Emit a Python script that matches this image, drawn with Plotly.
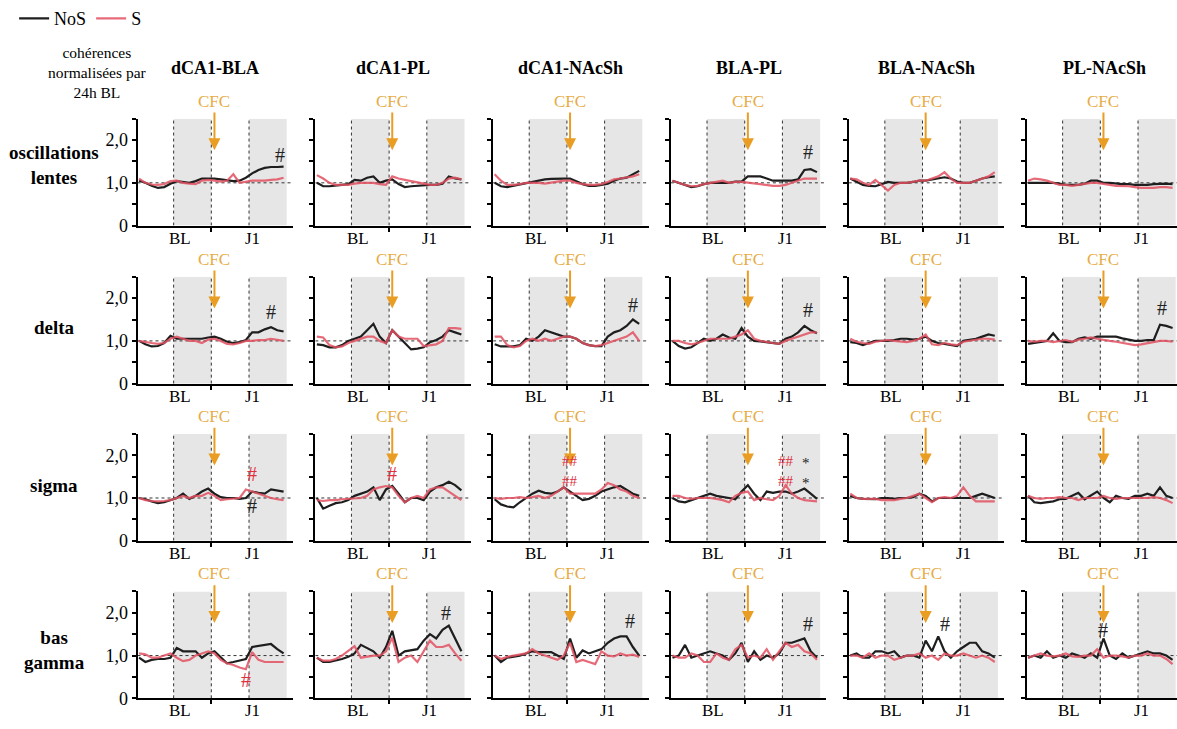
import plotly.graph_objects as go
from plotly.subplots import make_subplots

# ---------------- data ----------------
hours = [1, 3, 5, 7, 9, 11, 13, 15, 17, 19, 21, 23, 25, 27, 29, 31, 33, 35, 37, 39, 41, 43, 45, 47]

pairs = ["dCA1-BLA", "dCA1-PL", "dCA1-NAcSh", "BLA-PL", "BLA-NAcSh", "PL-NAcSh"]
bands = ["oscillations<br>lentes", "delta", "sigma", "bas<br>gamma"]

# oscillations lentes (one list per pair)
nos_lentes = [
    [1.05, 1.0, 0.93, 0.88, 0.9, 0.98, 1.04, 1.02, 1.0, 1.04, 1.1, 1.1, 1.1, 1.08, 1.06, 1.04, 1.05, 1.12, 1.22, 1.3, 1.35, 1.37, 1.37, 1.38],
    [1.0, 0.92, 0.92, 0.93, 0.95, 0.97, 1.07, 1.05, 1.12, 1.15, 1.0, 1.05, 1.08, 0.97, 0.9, 0.92, 0.93, 0.95, 0.95, 0.95, 0.98, 1.15, 1.1, 1.08],
    [1.0, 0.92, 0.9, 0.93, 0.97, 1.0, 1.03, 1.06, 1.08, 1.09, 1.1, 1.1, 1.1, 1.03, 0.97, 0.93, 0.93, 0.95, 0.98, 1.05, 1.1, 1.12, 1.2, 1.28],
    [1.05, 1.0, 0.95, 0.9, 0.92, 0.97, 1.0, 1.0, 1.0, 1.0, 1.03, 1.03, 1.15, 1.15, 1.15, 1.1, 1.05, 1.05, 1.05, 1.05, 1.08, 1.3, 1.32, 1.25],
    [1.1, 1.03, 0.95, 0.93, 0.92, 0.97, 1.02, 1.0, 1.0, 1.0, 1.02, 1.05, 1.05, 1.08, 1.1, 1.13, 1.1, 1.03, 1.0, 1.0, 1.05, 1.1, 1.13, 1.15],
    [1.0, 1.0, 1.0, 1.0, 1.0, 0.98, 0.95, 0.95, 0.95, 0.98, 1.05, 1.05, 1.0, 1.0, 0.98, 0.97, 0.97, 0.95, 0.95, 0.95, 0.97, 0.98, 0.98, 0.97],
]
s_lentes = [
    [1.1, 1.0, 0.96, 0.95, 0.97, 1.04, 1.05, 1.0, 0.98, 0.97, 1.05, 1.07, 1.05, 1.03, 1.05, 1.2, 1.0, 1.02, 1.05, 1.05, 1.05, 1.07, 1.08, 1.12],
    [1.18, 1.1, 1.0, 0.95, 0.95, 0.95, 0.98, 1.0, 1.0, 1.0, 0.97, 0.95, 1.15, 1.1, 1.07, 1.04, 1.0, 0.97, 0.95, 0.95, 1.0, 1.1, 1.12, 1.08],
    [1.2, 1.05, 0.95, 0.95, 0.97, 1.0, 1.0, 1.0, 0.98, 1.0, 1.03, 1.05, 1.05, 1.0, 0.97, 0.95, 0.95, 0.97, 1.02, 1.08, 1.1, 1.12, 1.15, 1.2],
    [1.05, 1.0, 0.95, 0.92, 0.93, 0.97, 1.0, 1.02, 1.05, 1.0, 1.02, 1.02, 1.0, 0.98, 0.97, 0.95, 0.93, 0.93, 0.95, 1.0, 1.05, 1.1, 1.1, 1.1],
    [1.1, 1.08, 1.0, 0.95, 1.07, 0.95, 0.82, 0.95, 1.0, 1.0, 1.03, 1.05, 1.05, 1.1, 1.15, 1.25, 1.1, 1.0, 1.0, 1.0, 1.05, 1.1, 1.15, 1.25],
    [1.05, 1.1, 1.08, 1.05, 1.0, 0.95, 0.95, 0.93, 0.95, 0.97, 1.0, 1.0, 0.97, 0.95, 0.93, 0.93, 0.92, 0.9, 0.88, 0.88, 0.88, 0.9, 0.9, 0.88],
]

# delta
nos_delta = [
    [1.0, 0.92, 0.87, 0.88, 0.95, 1.12, 1.05, 1.05, 1.05, 1.05, 1.05, 1.08, 1.1, 1.05, 0.98, 0.95, 0.97, 1.02, 1.2, 1.2, 1.27, 1.32, 1.25, 1.22],
    [0.92, 0.9, 0.85, 0.85, 0.9, 1.0, 1.05, 1.1, 1.25, 1.4, 1.1, 0.95, 1.25, 1.1, 0.95, 0.8, 0.82, 0.85, 0.97, 1.02, 1.1, 1.25, 1.2, 1.15],
    [0.92, 0.87, 0.87, 0.87, 0.9, 1.05, 1.0, 1.1, 1.25, 1.2, 1.15, 1.1, 1.1, 1.05, 0.95, 0.9, 0.88, 0.88, 1.1, 1.2, 1.25, 1.35, 1.5, 1.4],
    [1.0, 0.88, 0.82, 0.85, 0.95, 1.05, 1.0, 1.05, 1.15, 1.08, 1.05, 1.3, 1.1, 1.0, 0.99, 0.97, 0.95, 0.93, 1.05, 1.1, 1.2, 1.35, 1.25, 1.18],
    [0.97, 0.95, 0.9, 0.95, 1.0, 1.0, 1.0, 1.02, 1.05, 1.05, 1.03, 1.05, 1.1, 1.0, 0.95, 0.93, 0.9, 0.88, 1.0, 1.02, 1.05, 1.1, 1.15, 1.12],
    [0.93, 0.95, 0.97, 1.0, 1.18, 1.0, 0.97, 0.97, 1.05, 1.08, 1.05, 1.1, 1.1, 1.1, 1.1, 1.06, 1.03, 1.0, 1.0, 1.02, 1.02, 1.38, 1.35, 1.3],
]
s_delta = [
    [1.0, 0.97, 0.95, 0.93, 0.95, 1.05, 1.1, 1.05, 1.0, 1.0, 0.95, 1.03, 1.05, 1.0, 0.93, 0.92, 0.95, 1.0, 1.0, 1.02, 1.02, 1.05, 1.03, 1.0],
    [1.1, 1.08, 0.9, 0.85, 0.87, 0.95, 1.0, 1.05, 1.1, 1.1, 1.0, 0.95, 1.25, 1.1, 1.05, 1.05, 1.05, 0.88, 0.9, 0.92, 1.0, 1.3, 1.3, 1.28],
    [1.1, 1.1, 0.9, 0.85, 0.88, 1.0, 1.05, 1.0, 1.05, 1.0, 1.05, 1.1, 1.1, 1.05, 0.95, 0.9, 0.88, 0.9, 0.95, 1.0, 1.05, 1.1, 1.2, 1.0],
    [1.0, 1.0, 0.95, 0.92, 0.95, 1.0, 1.05, 1.05, 1.05, 1.05, 1.1, 1.15, 1.25, 1.05, 1.0, 0.97, 0.95, 0.93, 1.0, 1.05, 1.1, 1.15, 1.2, 1.2],
    [1.05, 0.98, 0.95, 0.93, 0.98, 1.0, 1.02, 1.0, 0.98, 0.97, 1.0, 1.05, 1.15, 0.92, 0.9, 0.95, 0.92, 0.9, 0.98, 1.0, 1.02, 1.05, 1.05, 1.03],
    [1.0, 0.98, 1.0, 1.0, 0.97, 1.0, 1.02, 0.98, 1.03, 1.05, 1.08, 1.05, 1.02, 1.0, 0.98, 0.95, 0.93, 0.9, 0.92, 0.95, 0.97, 1.0, 1.0, 0.98],
]

# sigma
nos_sigma = [
    [1.0, 0.97, 0.92, 0.88, 0.9, 0.95, 1.0, 1.1, 0.98, 1.05, 1.15, 1.22, 1.1, 1.02, 1.0, 1.0, 0.98, 1.0, 1.15, 1.12, 1.1, 1.2, 1.18, 1.15],
    [1.0, 0.75, 0.82, 0.88, 0.9, 0.95, 1.05, 1.1, 1.15, 1.25, 0.95, 1.2, 1.28, 1.1, 0.9, 1.0, 1.0, 0.95, 1.15, 1.25, 1.3, 1.38, 1.3, 1.18],
    [0.97, 0.85, 0.8, 0.78, 0.9, 1.0, 1.1, 1.17, 1.12, 1.1, 1.15, 1.25, 1.15, 1.05, 0.95, 0.98, 1.05, 1.15, 1.2, 1.25, 1.28, 1.2, 1.1, 1.05],
    [1.0, 0.92, 0.9, 0.95, 1.0, 1.05, 1.1, 1.05, 1.03, 1.0, 0.97, 1.15, 1.3, 1.1, 0.95, 1.15, 1.12, 1.15, 1.15, 1.1, 1.15, 1.22, 1.1, 0.98],
    [1.05, 1.0, 0.98, 0.97, 0.97, 1.0, 1.0, 0.98, 1.0, 1.0, 1.02, 1.1, 1.05, 0.92, 1.0, 1.0, 1.0, 1.0, 1.0, 1.0, 1.05, 1.1, 1.05, 1.0],
    [1.05, 0.9, 0.88, 0.9, 0.92, 0.97, 0.98, 1.05, 1.12, 0.97, 1.05, 1.15, 1.0, 0.9, 1.05, 1.0, 0.98, 1.05, 1.05, 1.1, 1.05, 1.25, 1.05, 1.0],
]
s_sigma = [
    [1.0, 0.95, 0.93, 0.92, 0.93, 0.95, 1.0, 1.05, 1.0, 1.05, 1.05, 1.12, 1.05, 0.95, 0.97, 0.98, 1.0, 1.2, 1.15, 1.1, 1.05, 1.0, 0.97, 0.95],
    [0.95, 0.93, 0.95, 0.95, 0.97, 0.98, 1.0, 1.0, 1.05, 1.2, 1.25, 1.28, 1.25, 1.05, 0.9, 1.0, 1.05, 1.0, 1.2, 1.25, 1.25, 1.15, 1.05, 0.95],
    [1.0, 0.98, 1.0, 1.0, 1.02, 1.0, 1.02, 1.05, 1.0, 1.05, 1.15, 1.25, 1.1, 1.1, 1.1, 1.1, 1.1, 1.2, 1.35, 1.3, 1.2, 1.15, 1.05, 1.0],
    [1.05, 1.05, 1.0, 0.98, 1.0, 1.0, 1.0, 0.98, 0.95, 0.9, 1.05, 1.12, 1.15, 0.95, 1.0, 0.97, 0.95, 1.05, 1.3, 1.1, 1.0, 0.95, 0.93, 0.92],
    [1.1, 1.0, 0.98, 0.98, 0.98, 0.95, 0.95, 0.95, 0.98, 1.0, 1.05, 1.1, 1.0, 0.9, 1.0, 1.02, 1.0, 1.05, 1.25, 1.05, 0.92, 0.92, 0.92, 0.92],
    [1.05, 1.0, 0.98, 1.0, 1.0, 1.02, 1.0, 1.0, 0.95, 1.0, 1.0, 1.0, 1.05, 1.0, 0.98, 1.0, 1.0, 1.0, 1.0, 1.0, 1.02, 1.0, 0.95, 0.88],
]

# bas gamma
nos_gamma = [
    [0.95, 0.85, 0.9, 0.92, 0.92, 0.95, 1.18, 1.1, 1.1, 1.1, 0.95, 1.05, 1.1, 0.95, 0.82, 0.85, 0.88, 0.92, 1.2, 1.22, 1.25, 1.27, 1.15, 1.05],
    [0.95, 0.85, 0.85, 0.88, 0.92, 0.97, 1.05, 1.25, 1.18, 1.1, 0.95, 1.2, 1.58, 1.0, 1.1, 1.12, 1.15, 1.35, 1.5, 1.4, 1.6, 1.7, 1.4, 1.1],
    [1.0, 0.85, 0.95, 0.98, 1.0, 1.05, 1.1, 1.08, 1.08, 1.08, 1.0, 0.92, 1.4, 0.95, 1.12, 1.05, 1.1, 1.15, 1.3, 1.4, 1.45, 1.45, 1.2, 1.0],
    [0.95, 1.0, 1.25, 0.95, 1.0, 1.05, 1.1, 1.05, 1.0, 0.9, 1.05, 1.3, 0.85, 1.1, 0.9, 1.0, 0.95, 1.05, 1.3, 1.3, 1.35, 1.4, 1.1, 0.95],
    [1.0, 1.05, 0.95, 0.95, 1.1, 1.1, 1.05, 1.1, 0.95, 1.0, 1.0, 0.95, 1.35, 1.1, 1.45, 1.1, 0.95, 1.1, 1.2, 1.3, 1.3, 1.1, 1.05, 0.95],
    [0.95, 1.0, 0.95, 1.1, 0.95, 1.0, 0.95, 1.05, 1.0, 0.95, 1.05, 0.95, 1.4, 1.0, 0.92, 1.05, 0.95, 1.0, 1.05, 1.1, 1.05, 1.05, 1.0, 0.9],
]
s_gamma = [
    [1.05, 1.03, 0.95, 0.95, 1.0, 1.05, 0.95, 0.87, 0.9, 1.0, 1.05, 1.1, 1.05, 0.9, 0.82, 0.78, 0.72, 0.68, 1.08, 0.9, 0.85, 0.85, 0.85, 0.85],
    [0.95, 0.88, 0.88, 0.92, 1.0, 1.1, 1.22, 0.95, 0.98, 1.0, 1.0, 1.1, 1.42, 0.85, 0.95, 1.0, 0.85, 1.1, 1.35, 1.2, 1.2, 1.25, 1.05, 0.88],
    [1.0, 0.92, 0.97, 1.0, 1.02, 1.05, 1.15, 1.05, 1.0, 0.95, 0.9, 1.0, 1.3, 0.85, 0.9, 0.85, 0.8, 1.1, 1.0, 0.98, 1.05, 1.0, 1.02, 0.97],
    [1.0, 0.95, 0.95, 1.05, 1.0, 0.85, 0.85, 1.05, 0.95, 0.9, 1.15, 1.25, 0.95, 1.0, 0.95, 1.15, 0.9, 1.1, 1.3, 1.2, 1.25, 1.1, 1.05, 0.9],
    [1.0, 1.0, 0.95, 1.05, 0.95, 1.0, 1.0, 0.9, 0.95, 1.0, 1.0, 1.05, 0.95, 1.0, 0.9, 1.05, 1.0, 1.0, 1.05, 1.0, 0.95, 1.0, 0.95, 0.85],
    [0.95, 1.0, 1.05, 1.0, 0.98, 1.0, 1.05, 0.98, 0.97, 1.0, 1.0, 1.15, 0.95, 1.0, 1.0, 0.98, 0.95, 1.0, 1.0, 1.05, 1.0, 1.0, 0.92, 0.8],
]

nos_all = [nos_lentes, nos_delta, nos_sigma, nos_gamma]
s_all = [s_lentes, s_delta, s_sigma, s_gamma]

# significance marks: (band row, pair col, hour, value, text, group)
sig_marks = [
    (0, 0, 46, 1.65, "#", "NoS"),
    (0, 3, 44, 1.72, "#", "NoS"),
    (1, 0, 43, 1.68, "#", "NoS"),
    (1, 2, 45, 1.85, "#", "NoS"),
    (1, 3, 44, 1.72, "#", "NoS"),
    (1, 5, 43.5, 1.77, "#", "NoS"),
    (2, 0, 37, 1.55, "#", "S"),
    (2, 0, 37, 0.82, "#", "NoS"),
    (2, 1, 25, 1.55, "#", "S"),
    (2, 2, 25, 1.62, "##<br>##", "S"),
    (2, 3, 37, 1.62, "##<br>##", "S"),
    (2, 3, 43.5, 1.58, "*<br>*", "NoS"),
    (3, 0, 35, 0.42, "#", "S"),
    (3, 1, 42, 2.0, "#", "NoS"),
    (3, 2, 44, 1.8, "#", "NoS"),
    (3, 3, 44, 1.75, "#", "NoS"),
    (3, 4, 31, 1.75, "#", "NoS"),
    (3, 5, 25, 1.6, "#", "NoS"),
]

cfc_hour = 25
dark_phases = [(12, 24), (36, 48)]
day_labels = [(14, "BL"), (37, "J1")]

# ---------------- style ----------------
W, H = 1177, 729
SERIF = "Liberation Serif, Times New Roman, serif"
C_NOS = "#1e1e1e"
C_S = "rgba(226,80,95,0.85)"
C_CFC_TXT = "#E7AC45"
C_CFC_ARR = "#E99D22"
C_GREY = "#E6E6E6"

left_px = [137.5 + 177.8 * c for c in range(6)]
zero_px = [228, 388.5, 548, 708]
PW, PH = 155.5, 108.5
X_MIN, X_MAX = 0.5, 50.0
PX_PER_H = PW / (X_MAX - X_MIN)

fig = make_subplots(rows=4, cols=6)

for r in range(4):
    for c in range(6):
        idx = r * 6 + c + 1
        xa = "xaxis" if idx == 1 else f"xaxis{idx}"
        ya = "yaxis" if idx == 1 else f"yaxis{idx}"
        xr = "x" if idx == 1 else f"x{idx}"
        yr = "y" if idx == 1 else f"y{idx}"
        width_px = min(PW, W - left_px[c])
        x_hi = X_MIN + width_px / PX_PER_H
        x0 = left_px[c] / W
        x1 = (left_px[c] + width_px) / W
        y0 = (H - zero_px[r]) / H
        y1 = (H - zero_px[r] + PH) / H
        fig.layout[xa].update(
            domain=[x0, min(x1, 1.0)], range=[X_MIN, x_hi], showgrid=False, zeroline=False,
            showline=True, linecolor="black", linewidth=2,
            tickvals=[24], ticktext=[""], ticks="outside", ticklen=4,
            tickcolor="black", tickwidth=1.5, showticklabels=False, fixedrange=True,
        )
        fig.layout[ya].update(
            domain=[y0, y1], range=[0, 2.5], showgrid=False, zeroline=False,
            showline=True, linecolor="black", linewidth=2,
            tickvals=[0, 0.5, 1, 1.5, 2, 2.5],
            ticktext=["0", "", "1,0", "", "2,0", ""] if c == 0 else [""] * 6,
            ticks="outside", ticklen=4, tickcolor="black", tickwidth=1.5,
            tickfont=dict(family=SERIF, size=18, color="black"), fixedrange=True,
        )
        # grey dark phases
        for a, b in dark_phases:
            fig.add_shape(type="rect", xref=xr, yref=yr, x0=a, x1=min(b, x_hi), y0=0, y1=2.5,
                          fillcolor=C_GREY, line_width=0, layer="below")
        # dotted lines
        for xv in (12, 24, 36):
            fig.add_shape(type="line", xref=xr, yref=yr, x0=xv, x1=xv, y0=0, y1=2.5,
                          line=dict(color="#333", width=1, dash="dot"), layer="below")
        fig.add_shape(type="line", xref=xr, yref=yr, x0=X_MIN, x1=x_hi, y0=1, y1=1,
                      line=dict(color="#333", width=1, dash="dot"), layer="below")

        fig.add_trace(go.Scatter(x=hours, y=nos_all[r][c], mode="lines", name="NoS",
                                 line=dict(color=C_NOS, width=2.2),
                                 showlegend=(idx == 1), legendgroup="NoS"),
                      row=r + 1, col=c + 1)
        fig.add_trace(go.Scatter(x=hours, y=s_all[r][c], mode="lines", name="S",
                                 line=dict(color=C_S, width=2.2),
                                 showlegend=(idx == 1), legendgroup="S"),
                      row=r + 1, col=c + 1)

        # CFC arrow + label
        fig.add_annotation(x=cfc_hour, y=1.76, ax=cfc_hour, ay=2.68, xref=xr, yref=yr,
                           axref=xr, ayref=yr, text="", showarrow=True, arrowhead=2,
                           arrowsize=1.2, arrowwidth=2, arrowcolor=C_CFC_ARR)
        fig.add_annotation(x=cfc_hour, y=2.5, xref=xr, yref=yr, text="CFC",
                           showarrow=False, xanchor="center", yanchor="bottom", yshift=6,
                           font=dict(family=SERIF, size=17, color=C_CFC_TXT))
        for hx, lab in day_labels:
            fig.add_annotation(x=hx, y=0, xref=xr, yref=yr, text=lab, showarrow=False,
                               xanchor="center", yanchor="top", yshift=-1,
                               font=dict(family=SERIF, size=17, color="black"))

# significance marks
for r, c, hx, v, txt, grp in sig_marks:
    idx = r * 6 + c + 1
    xr = "x" if idx == 1 else f"x{idx}"
    yr = "y" if idx == 1 else f"y{idx}"
    col = "#E0303F" if grp == "S" else "#222222"
    size = 15 if "<br>" in txt else 20
    fig.add_annotation(x=hx, y=v, xref=xr, yref=yr, text=txt, showarrow=False,
                       xanchor="center", yanchor="middle",
                       font=dict(family=SERIF, size=size, color=col))

# column titles
for c, name in enumerate(pairs):
    fig.add_annotation(x=(left_px[c] + PW / 2) / W, y=(H - 68) / H, xref="paper", yref="paper",
                       text=f"<b>{name}</b>", showarrow=False, xanchor="center", yanchor="middle",
                       font=dict(family=SERIF, size=18, color="black"))

# row titles
row_centers = [167, 332, 492, 659]
for r, name in enumerate(bands):
    fig.add_annotation(x=54 / W, y=(H - row_centers[r]) / H, xref="paper", yref="paper",
                       text=f"<b>{name}</b>", showarrow=False, xanchor="center", yanchor="middle",
                       font=dict(family=SERIF, size=19, color="black"))

fig.add_annotation(x=97 / W, y=(H - 73) / H, xref="paper", yref="paper",
                   text="cohérences<br>normalisées par<br>24h BL", showarrow=False,
                   xanchor="center", yanchor="middle",
                   font=dict(family=SERIF, size=15.5, color="black"))

fig.update_layout(
    width=W, height=H, margin=dict(l=0, r=0, t=0, b=0),
    paper_bgcolor="white", plot_bgcolor="white",
    showlegend=True,
    legend=dict(orientation="h", x=0.012, y=(H - 18) / H, xanchor="left", yanchor="middle",
                font=dict(family=SERIF, size=18, color="black"),
                bgcolor="rgba(0,0,0,0)", itemwidth=30, tracegroupgap=0),
)

# the page's default 8px body margin would shift the whole figure; remove it
fig.write_html("out.html", config={"displayModeBar": False},
               post_script="document.body.style.margin='0px';")
